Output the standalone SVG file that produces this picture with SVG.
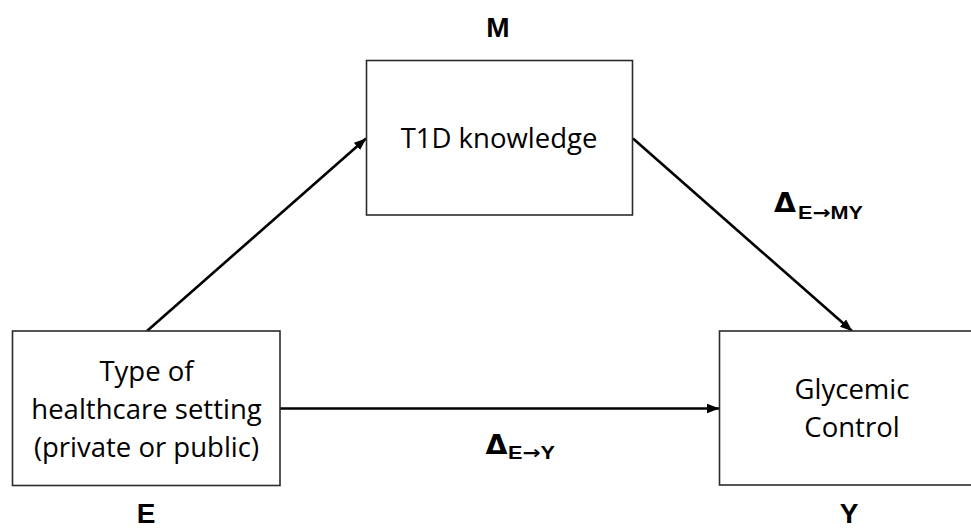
<svg xmlns="http://www.w3.org/2000/svg" width="971" height="529" viewBox="0 0 971 529">
  <style>
    .box { fill: #ffffff; stroke: #2b2b2b; stroke-width: 1.6; }
    .node-text { font-family: "Open Sans", "Noto Sans", sans-serif; font-size: 27.5px; fill: #000000; text-anchor: middle; }
    .var { font-family: "Liberation Sans", Arial, sans-serif; font-size: 28px; font-weight: bold; fill: #000000; text-anchor: middle; }
    .delta-sym { font-family: "DejaVu Sans", "Liberation Sans", sans-serif; font-size: 26px; font-weight: bold; fill: #000000; }
    .delta-sub { font-family: "Liberation Sans", Arial, sans-serif; font-size: 18px; font-weight: bold; fill: #000000; }
    .arr { font-family: "DejaVu Sans", sans-serif; font-weight: bold; }
    .edge { fill: none; stroke: #000000; stroke-width: 2.6; }
  </style>
  <defs>
    <marker id="arrow" markerUnits="userSpaceOnUse" markerWidth="13" markerHeight="10" refX="12" refY="4.75" orient="auto">
      <path d="M0,0 L12.5,4.75 L0,9.5 Z" fill="#000000"/>
    </marker>
  </defs>
  <rect width="971" height="529" fill="#ffffff"/>

  <!-- connectors -->
  <g id="connectors">
    <line class="edge" x1="147" y1="331" x2="366" y2="138.5" marker-end="url(#arrow)"/>
    <line class="edge" x1="633" y1="138.5" x2="852" y2="331" marker-end="url(#arrow)"/>
    <line class="edge" x1="280" y1="408.5" x2="719" y2="408.5" marker-end="url(#arrow)"/>
  </g>

  <!-- mediator -->
  <g id="node-M">
    <rect class="box" x="366.5" y="60.5" width="266" height="154.5"/>
    <text class="node-text" x="499" y="148">T1D knowledge</text>
    <text class="var" x="498" y="37">M</text>
  </g>

  <!-- exposure -->
  <g id="node-E">
    <rect class="box" x="12.5" y="331" width="267.5" height="154.5"/>
    <text class="node-text" x="146.5" y="381">Type of</text>
    <text class="node-text" x="146.5" y="419">healthcare setting</text>
    <text class="node-text" x="146.5" y="457">(private or public)</text>
    <text class="var" x="146" y="523">E</text>
  </g>

  <!-- outcome -->
  <g id="node-Y">
    <rect class="box" x="719.5" y="331" width="265" height="154"/>
    <text class="node-text" x="852" y="399">Glycemic</text>
    <text class="node-text" x="852" y="437">Control</text>
    <text class="var" x="849" y="523">Y</text>
  </g>

  <!-- effect labels -->
  <g id="label-indirect">
    <text class="delta-sym" x="774" y="212" textLength="22" lengthAdjust="spacingAndGlyphs">Δ</text>
    <text class="delta-sub" x="798" y="219" textLength="65" lengthAdjust="spacingAndGlyphs">E<tspan class="arr">→</tspan>MY</text>
  </g>
  <g id="label-direct">
    <text class="delta-sym" x="485.5" y="453.5" textLength="22" lengthAdjust="spacingAndGlyphs">Δ</text>
    <text class="delta-sub" x="508" y="459" textLength="47" lengthAdjust="spacingAndGlyphs">E<tspan class="arr">→</tspan>Y</text>
  </g>
</svg>
